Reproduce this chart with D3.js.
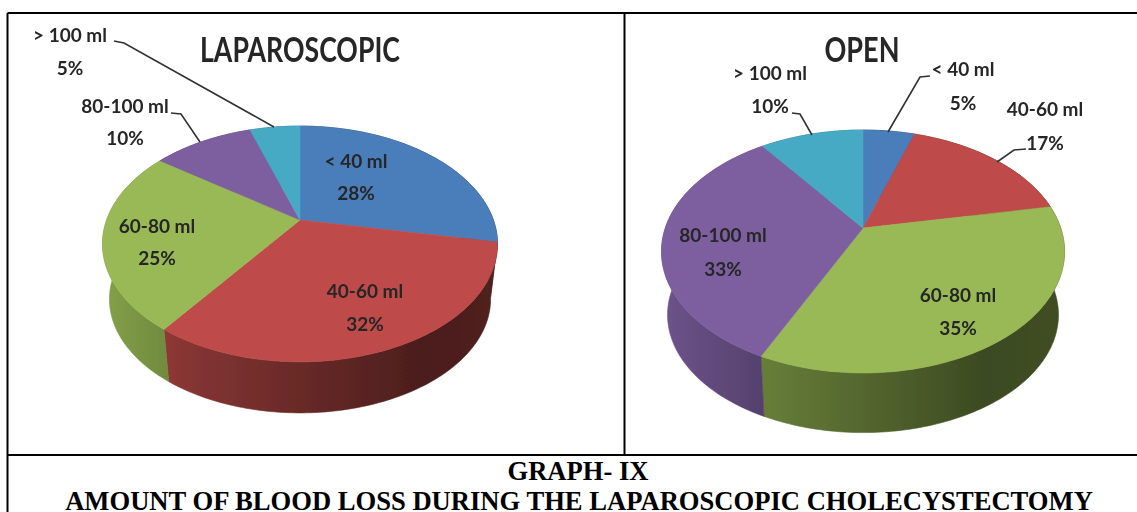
<!DOCTYPE html>
<html>
<head>
<meta charset="utf-8">
<script src="https://d3js.org/d3.v7.min.js"></script>
<style>
  html, body { margin: 0; padding: 0; background: #fff; }
  svg { display: block; }
  .lbl { font-family: Lato, "Open Sans", sans-serif; font-weight: 700; fill: #262626; text-anchor: middle; }
  .cap { font-family: "Liberation Serif", serif; font-weight: 700; fill: #000; text-anchor: middle; }
</style>
</head>
<body>
<svg id="chart" width="1137" height="512"></svg>
<script>
// values
const categories = ['< 40 ml', '40-60 ml', '60-80 ml', '80-100 ml', '> 100 ml'];
const lapValues = [28, 32, 25, 10, 5];
const openValues = [5, 17, 35, 33, 10];
const colors = ['#4a7ebb', '#be4b48', '#98b954', '#7d5fa0', '#46aac5'];

// pie geometry, cx/cy is the apex of the slices
const lapGeom = { id: 'lap', cx: 300, cy: 220, rx: 197.5, k: 0.2034, b: 113, drop: 56, shrink: 0.965 };
const openGeom = { id: 'open', cx: 863, cy: 228, rx: 201.5, k: 0.1935, b: 116.9, drop: 64, shrink: 0.97 };

// label anchors, one per category: [x, y of name, y of percent]
const lapLabels = [[356, 168, 200], [365, 298, 331], [157, 233, 265], [125, 113, 145], [70, 42, 75]];
const openLabels = [[963, 76, 110], [1045, 116, 150], [958, 302, 335], [723, 242, 276], [770, 80, 113]];

const lapLeaders = [
  [[114, 41], [124, 43], [274, 127]],
  [[171, 113], [181, 114], [200, 142]]
];
const openLeaders = [
  [[930, 76], [920, 77], [888, 132]],
  [[792, 113], [800, 114], [812, 135]],
  [[1026, 149], [1014, 150], [997, 162]]
];

const svg = d3.select('#chart');
const defs = svg.append('defs');
defs.append('filter').attr('id', 'soft').append('feGaussianBlur').attr('stdDeviation', 0.7);
defs.append('filter').attr('id', 'softText').append('feGaussianBlur').attr('stdDeviation', 0.45);

const pieLayout = d3.pie().sort(null).value(d => d);
const line = d3.line();

// perspective view of the disc: a = clockwise angle from the top
function project(g, a, r) {
  const ax = g.rx * Math.sqrt(1 - g.k * g.k);
  const u = r * Math.sin(a), v = -r * Math.cos(a);
  const w = 1 - g.k * v;
  return [g.cx + ax * u / w, g.cy + g.b * v / w];
}
function lower(g, p) {
  return [g.cx + (p[0] - g.cx) * g.shrink, g.cy + g.drop + (p[1] - g.cy) * g.shrink];
}
function arcAngles(s) {
  const n = Math.max(2, Math.ceil((s.endAngle - s.startAngle) / 0.02));
  return d3.range(n + 1).map(i => s.startAngle + (s.endAngle - s.startAngle) * i / n);
}

function drawPie(g, values) {
  const arcs = pieLayout(values);
  const left = g.cx - g.rx, right = g.cx + g.rx;

  // side wall shading, dark towards the right
  const shadeOffsets = [0, 0.25, 0.6, 0.8, 1];
  const shadeFactors = [0.87, 0.68, 0.5, 0.4, 0.42];
  colors.forEach((c, i) => {
    const grad = defs.append('linearGradient').attr('id', g.id + 'wall' + i)
      .attr('gradientUnits', 'userSpaceOnUse')
      .attr('x1', left).attr('x2', right).attr('y1', 0).attr('y2', 0);
    const base = d3.rgb(c);
    shadeOffsets.forEach((o, j) => {
      const f = shadeFactors[j];
      grad.append('stop').attr('offset', o)
        .attr('stop-color', d3.rgb(base.r * f, base.g * f, base.b * f));
    });
  });

  const pieG = svg.append('g').attr('filter', 'url(#soft)');

  pieG.selectAll('path.wall').data(arcs).join('path')
    .attr('class', 'wall')
    .attr('fill', (d, i) => `url(#${g.id}wall${i})`)
    .attr('stroke', (d, i) => `url(#${g.id}wall${i})`)
    .attr('stroke-width', 0.6)
    .attr('d', d => {
      const top = arcAngles(d).map(a => project(g, a, 1));
      return line(top.concat(top.map(p => lower(g, p)).reverse())) + 'Z';
    });

  pieG.selectAll('path.top').data(arcs).join('path')
    .attr('class', 'top')
    .attr('fill', (d, i) => colors[i])
    .attr('stroke', (d, i) => colors[i])
    .attr('stroke-width', 0.6)
    .attr('d', d => line([[g.cx, g.cy]].concat(arcAngles(d).map(a => project(g, a, 1)))) + 'Z');
}

function drawLabels(values, labels, leaders) {
  const t = svg.append('g').attr('filter', 'url(#softText)');
  categories.forEach((c, i) => {
    t.append('text').attr('class', 'lbl').attr('x', labels[i][0]).attr('y', labels[i][1])
      .attr('font-size', 19).text(c);
    t.append('text').attr('class', 'lbl').attr('x', labels[i][0]).attr('y', labels[i][2])
      .attr('font-size', 19).text(values[i] + '%');
  });
  leaders.forEach(l => {
    t.append('path').attr('d', line(l)).attr('fill', 'none')
      .attr('stroke', '#333').attr('stroke-width', 1.6);
  });
}

drawPie(lapGeom, lapValues);
drawPie(openGeom, openValues);
drawLabels(lapValues, lapLabels, lapLeaders);
drawLabels(openValues, openLabels, openLeaders);

// chart titles
svg.append('text').attr('class', 'lbl').attr('x', 300).attr('y', 62).attr('font-size', 35)
  .attr('textLength', 200).attr('lengthAdjust', 'spacingAndGlyphs').attr('filter', 'url(#softText)')
  .text('LAPAROSCOPIC');
svg.append('text').attr('class', 'lbl').attr('x', 862).attr('y', 62).attr('font-size', 35)
  .attr('textLength', 75).attr('lengthAdjust', 'spacingAndGlyphs').attr('filter', 'url(#softText)')
  .text('OPEN');

// table rules
const rules = [[7.5, 13, 1137, 13], [7.5, 13, 7.5, 512], [624.5, 13, 624.5, 455], [7.5, 455, 1137, 455]];
svg.selectAll('line.rule').data(rules).join('line')
  .attr('class', 'rule')
  .attr('x1', d => d[0]).attr('y1', d => d[1]).attr('x2', d => d[2]).attr('y2', d => d[3])
  .attr('stroke', '#000').attr('stroke-width', 2);

// caption
svg.append('text').attr('class', 'cap').attr('x', 578).attr('y', 480).attr('font-size', 26.6).text('GRAPH- IX');
svg.append('text').attr('class', 'cap').attr('x', 579).attr('y', 510).attr('font-size', 26.6)
  .text('AMOUNT OF BLOOD LOSS DURING THE LAPAROSCOPIC CHOLECYSTECTOMY');
</script>
</body>
</html>
